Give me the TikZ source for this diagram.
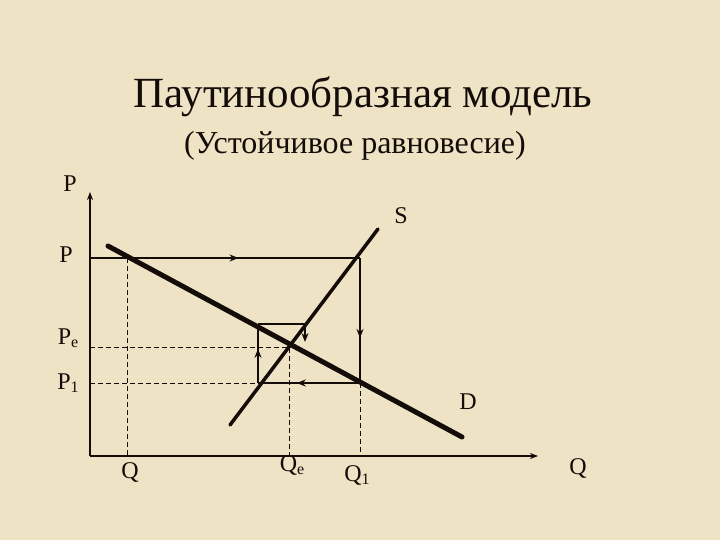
\documentclass[tikz,border=0pt]{standalone}
\usepackage{fontspec}
\setmainfont{Liberation Serif}
\definecolor{Parchment}{RGB}{238, 227, 196}
\definecolor{Ink}{RGB}{20, 12, 8}
\usetikzlibrary{arrows.meta, positioning, decorations.markings}
\newcommand{\sub}[1]{\raisebox{-0.3ex}{\fontsize{16}{16}\selectfont #1}}
\begin{document}
\begin{tikzpicture}[x=1pt, y=-1pt,
        lbl/.style={text=Ink, font=\fontsize{24}{26}\selectfont, inner sep=0pt},
        axis/.style={draw=Ink, line width=2pt, -{Stealth[length=8pt, width=6pt]}},
        guide/.style={draw=Ink, line width=0.9pt, dash pattern=on 5pt off 3pt},
        web/.style={draw=Ink, line width=1.8pt},
        midarrow/.style={postaction={decorate, decoration={markings,
            mark=at position #1 with {\arrow{Stealth[length=9pt, width=7pt]}}}}},
        curve/.style={draw=Ink, line cap=round}
    ]
        % background
        \fill[Parchment] (0,0) rectangle (720,540);
        \useasboundingbox (0,0) rectangle (720,540);
        % title
        \node[text=Ink, font=\fontsize{43}{48}\selectfont] (title) at (363,97) {Паутинообразная модель};
        \node[text=Ink, font=\fontsize{32}{36}\selectfont] (subtitle) at (355,146) {(Устойчивое равновесие)};
        % axes
        \coordinate (O) at (90,456);
        \coordinate (ytop) at (90,192);
        \coordinate (xend) at (538,456);
        \draw[axis] (O) -- (ytop);
        \draw[axis] (O) -- (xend);
        % curves
        \coordinate (d1) at (108,246);
        \coordinate (d2) at (462,437);
        \coordinate (s1) at (230,425);
        \coordinate (s2) at (378,229);
        \draw[curve, line width=5pt] (d1) -- (d2);
        \draw[curve, line width=3.5pt] (s1) -- (s2);
        % cobweb points
        \coordinate (p0) at (90,258);
        \coordinate (a) at (127,258);
        \coordinate (b) at (360,258);
        \coordinate (c) at (360,383);
        \coordinate (e) at (258,383);
        \coordinate (f) at (258,324);
        \coordinate (g) at (305,324);
        \coordinate (h) at (305,342);
        \coordinate (eq) at (289,347);
        \coordinate (pe) at (90,347);
        \coordinate (p1) at (90,383);
        \coordinate (qa) at (127,456);
        \coordinate (qe) at (289,456);
        \coordinate (q1) at (360,456);
        % guides
        \draw[guide] (a) -- (qa);
        \draw[guide] (pe) -- (eq) -- (qe);
        \draw[guide] (p1) -- (e);
        \draw[guide] (c) -- (q1);
        % cobweb
        \draw[web, midarrow=0.55] (p0) -- (b);
        \draw[web, midarrow=0.64] (b) -- (c);
        \draw[web, midarrow=0.62] (c) -- (e);
        \draw[web, midarrow=0.58] (e) -- (f);
        \draw[web] (f) -- (g);
        \draw[web, -{Stealth[length=9pt, width=7pt]}] (g) -- (h);
        % labels
        \node[lbl] (Pax) at (70,184) {P};
        \node[lbl] (Slbl) at (401,216) {S};
        \node[lbl] (Plbl) at (66,255) {P};
        \node[lbl] (Pelbl) at (68,338) {P\sub{e}};
        \node[lbl] (P1lbl) at (68,383) {P\sub{1}};
        \node[lbl] (Dlbl) at (468,402) {D};
        \node[lbl] (Qlbl) at (130,472) {Q};
        \node[lbl] (Qelbl) at (292,465) {Q\sub{e}};
        \node[lbl] (Q1lbl) at (357,475) {Q\sub{1}};
        \node[lbl] (Qax) at (578,468) {Q};
    \end{tikzpicture}
\end{document}
